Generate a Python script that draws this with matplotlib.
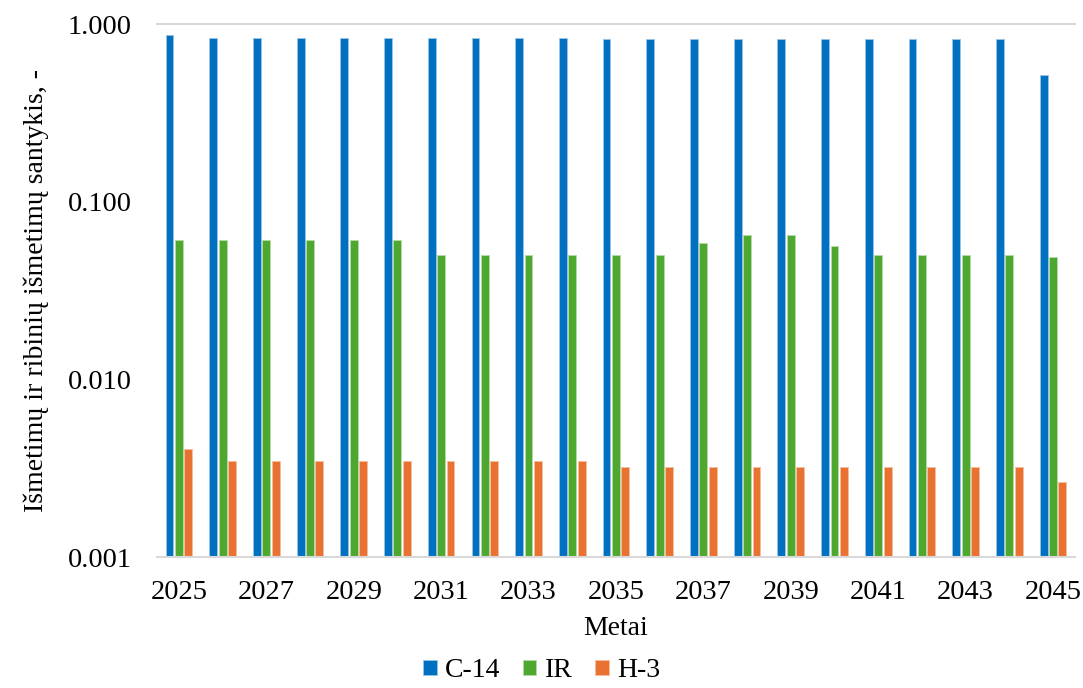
import numpy as np
import matplotlib.pyplot as plt
from matplotlib.ticker import FixedLocator, FuncFormatter

plt.rcParams['font.family'] = ['Liberation Serif', 'DejaVu Serif']

years = list(range(2025, 2046))
c14 = [0.867] + [0.838] * 9 + [0.824] * 10 + [0.517]
ir = [0.0609] * 6 + [0.0501] * 6 + [0.0583, 0.0650, 0.0650, 0.0565] + [0.0501] * 4 + [0.0491]
h3 = [0.00406] + [0.00347] * 9 + [0.00321] * 10 + [0.00264]

x = np.arange(len(years))
w = 0.18
off = 0.215

fig = plt.figure(figsize=(10.83, 6.88), dpi=100)
ax = fig.add_axes([0.145, 0.190, 0.8475, 0.775])

ax.bar(x - off, c14, w, color='#0070C0', edgecolor='#9CC3E6', linewidth=0.6, label='C-14')
ax.bar(x, ir, w, color='#4EA72E', edgecolor='#B5DCA5', linewidth=0.6, label='IR')
ax.bar(x + off, h3, w, color='#E97132', edgecolor='#F5BFA0', linewidth=0.6, label='H-3')

ax.set_yscale('log')
ax.set_ylim(0.001, 1.0)
ax.set_xlim(-0.5, len(years) - 0.5)
ax.yaxis.set_major_locator(FixedLocator([0.001, 0.01, 0.1, 1.0]))
ax.yaxis.set_minor_locator(FixedLocator([]))
ax.yaxis.set_major_formatter(FuncFormatter(lambda v, p: f"{v:.3f}"))
ax.set_xticks(x[::2])
ax.set_xticklabels([str(y) for y in years[::2]])
ax.tick_params(axis='both', length=0, labelsize=20.5)
ax.tick_params(axis='x', pad=16)
ax.tick_params(axis='y', pad=18)

for s in ['left', 'right', 'top']:
    ax.spines[s].set_visible(False)
ax.spines['bottom'].set_color('#D9D9D9')
ax.spines['bottom'].set_linewidth(1.5)
ax.axhline(1.0, color='#D9D9D9', linewidth=1.5, clip_on=False)

ax.set_xlabel('Metai', fontsize=20, labelpad=8)
ax.set_ylabel('Išmetimų ir ribinių išmetimų santykis, -', fontsize=20, labelpad=14)

fig.legend(loc='center', bbox_to_anchor=(0.5, 0.025), ncol=3, frameon=False,
           fontsize=20, handlelength=0.5, handleheight=0.5, handletextpad=0.3, columnspacing=0.8)

fig.savefig('out.png', dpi=100)
